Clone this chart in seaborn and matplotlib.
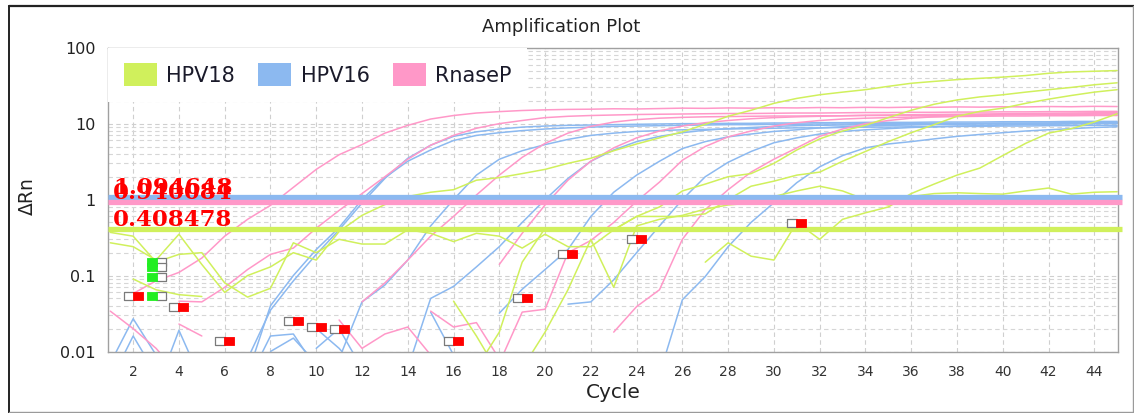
import matplotlib
matplotlib.use("Agg")
import matplotlib.pyplot as plt
import matplotlib.transforms as mtransforms
from matplotlib.lines import Line2D
from matplotlib.patches import Patch
from matplotlib.path import Path
from matplotlib.ticker import FixedLocator, FixedFormatter, NullLocator, NullFormatter
import pandas as pd
import seaborn as sns

# ---------------------------------------------------------------- data
# Each trace: first cycle drawn, then ΔRn for consecutive cycles.
hpv18_a_start = 1
hpv18_a = [0.27, 0.24, 0.16, 0.35, 0.14, 0.06, 0.1, 0.13, 0.2, 0.16, 0.38, 0.62, 0.86, 1.1, 1.25,
           1.35, 1.8, 1.95, 2.2, 2.5, 3.0, 3.5, 4.4, 5.4, 6.5, 7.8, 9.8, 12.5, 15, 18.5, 21.5, 24,
           26, 28, 31, 34, 36, 38, 39.5, 41, 43, 46, 48, 49, 50]
hpv18_b_start = 1
hpv18_b = [0.37, 0.33, 0.15, 0.19, 0.2, 0.08, 0.052, 0.068, 0.27, 0.2, 0.3, 0.26, 0.26, 0.4, 0.36,
           0.28, 0.36, 0.33, 0.23, 0.35, 0.24, 0.24, 0.4, 0.6, 0.8, 1.3, 1.6, 2.0, 2.2, 3.0, 4.5,
           6.3, 8.0, 9.5, 12, 15, 18, 20.5, 22.5, 24, 26, 28, 30, 32.5, 34.5]
hpv18_c_start = 17
hpv18_c = [0.006, 0.018, 0.15, 0.42, 0.4, 0.38, 0.4, 0.6, 0.6, 0.6, 0.65, 1.0, 1.5, 1.75, 2.1,
           2.3, 3.2, 4.3, 5.8, 7.6, 9.7, 12.5, 14.5, 16, 18.5, 21, 23.5, 26, 28]
hpv18_d_start = 19
hpv18_d = [0.006, 0.018, 0.065, 0.3, 0.07, 0.45, 0.55, 0.62, 0.75, 0.85, 0.9, 1.1, 1.3, 1.5, 1.3,
           1.0, 0.85, 1.1, 1.2, 1.23, 1.2, 1.18, 1.3, 1.42, 1.18, 1.25, 1.27]
hpv18_e_start = 27
hpv18_e = [0.15, 0.27, 0.18, 0.16, 0.5, 0.3, 0.55, 0.67, 0.8, 1.2, 1.6, 2.1, 2.6, 3.8, 5.5, 7.5,
           8.6, 10.5, 13.5]
hpv18_f_start = 2
hpv18_f = [0.09, 0.065, 0.056, 0.053]
hpv18_g_start = 16
hpv18_g = [0.046, 0.016, 0.005]

hpv16_a_start = 7
hpv16_a = [0.005, 0.04, 0.1, 0.22, 0.43, 1.0, 1.95, 3.2, 4.5, 6.0, 7.0, 7.6, 8.1, 8.5, 8.8, 9.0,
           9.2, 9.3, 9.4, 9.5, 9.6, 9.7, 9.7, 9.8, 9.8, 9.9, 9.9, 10.0, 10.0, 10.0, 10.1, 10.1,
           10.1, 10.2, 10.2, 10.2, 10.3, 10.3, 10.3]
hpv16_b_start = 7
hpv16_b = [0.008, 0.035, 0.085, 0.19, 0.4, 0.9, 1.9, 3.5, 5.2, 6.8, 7.8, 8.5, 9.0, 9.3, 9.5, 9.6,
           9.7, 9.8, 9.9, 10.0, 10.0, 10.1, 10.1, 10.2, 10.2, 10.3, 10.3, 10.4, 10.4, 10.4, 10.5,
           10.5, 10.5, 10.6, 10.6, 10.6, 10.7, 10.7, 10.7]
hpv16_c_start = 11
hpv16_c = [0.008, 0.045, 0.075, 0.16, 0.45, 1.0, 2.1, 3.4, 4.4, 5.3, 6.2, 7.0, 7.5, 7.9, 8.1, 8.3,
           8.4, 8.5, 8.6, 8.7, 8.8, 8.8, 8.9, 9.0, 9.0, 9.1, 9.1, 9.2, 9.2, 9.3, 9.3, 9.4, 9.4,
           9.5, 9.5]
hpv16_d_start = 14
hpv16_d = [0.006, 0.05, 0.072, 0.13, 0.24, 0.5, 1.0, 1.9, 3.2, 4.5, 5.8, 6.8, 7.6, 8.2, 8.6, 8.9,
           9.2, 9.4, 9.5, 9.6, 9.7, 9.8, 9.8, 9.9, 9.9, 10.0, 10.0, 10.0, 10.1, 10.1, 10.1, 10.2]
hpv16_e_start = 18
hpv16_e = [0.032, 0.066, 0.12, 0.22, 0.6, 1.25, 2.1, 3.2, 4.7, 5.8, 6.7, 7.3, 7.9, 8.3, 8.8, 9.1,
           9.3, 9.5, 9.6, 9.7, 9.8, 9.9, 9.9, 10.0, 10.0, 10.1, 10.1, 10.2]
hpv16_f_start = 21
hpv16_f = [0.042, 0.045, 0.088, 0.2, 0.45, 1.0, 2.0, 3.1, 4.3, 5.6, 6.5, 7.3, 7.9, 8.3, 8.6, 8.9,
           9.1, 9.3, 9.4, 9.6, 9.7, 9.8, 9.9, 10.0, 10.0]
hpv16_g_start = 25
hpv16_g = [0.005, 0.048, 0.097, 0.24, 0.5, 0.91, 1.67, 2.7, 3.8, 4.8, 5.4, 5.8, 6.3, 6.8, 7.2, 7.6,
           8.0, 8.3, 8.6, 8.9, 9.1]
hpv16_n1_start, hpv16_n1 = 1, [0.007, 0.027, 0.009]
hpv16_n2_start, hpv16_n2 = 1, [0.004, 0.016, 0.005]
hpv16_n3_start, hpv16_n3 = 3, [0.003, 0.019, 0.004]
hpv16_n4_start, hpv16_n4 = 7, [0.004, 0.016, 0.017, 0.006]
hpv16_n5_start, hpv16_n5 = 8, [0.01, 0.015, 0.007]
hpv16_n6_start, hpv16_n6 = 10, [0.011, 0.02, 0.006]
hpv16_n7_start, hpv16_n7 = 10, [0.02, 0.011, 0.005]
hpv16_n8_start, hpv16_n8 = 15, [0.033, 0.009]

rnasep_a_start = 2
rnasep_a = [0.058, 0.085, 0.11, 0.17, 0.33, 0.55, 0.84, 1.45, 2.5, 3.9, 5.3, 7.5, 9.5, 11.5, 12.8,
            13.8, 14.4, 14.9, 15.2, 15.4, 15.5, 15.7, 15.6, 15.8, 16.0, 15.9, 16.1, 16.0, 16.2,
            16.1, 16.3, 16.2, 16.4, 16.3, 16.5, 16.4, 16.6, 16.5, 16.7, 16.6, 16.8, 16.7, 16.9, 16.8]
rnasep_b_start = 4
rnasep_b = [0.046, 0.045, 0.07, 0.12, 0.19, 0.23, 0.42, 0.72, 1.2, 2.0, 3.4, 5.2, 7.0, 8.7, 10, 11,
            12, 12.5, 12.8, 13.0, 13.2, 13.3, 13.4, 13.5, 13.6, 13.6, 13.7, 13.8, 13.8, 13.9, 14.0,
            14.0, 14.1, 14.1, 14.2, 14.2, 14.3, 14.3, 14.4, 14.4, 14.5, 14.5]
rnasep_c_start = 12
rnasep_c = [0.045, 0.08, 0.16, 0.33, 0.6, 1.15, 2.1, 3.6, 5.5, 7.5, 9.2, 10.5, 11.3, 11.8, 12.1,
            12.3, 12.4, 12.5, 12.6, 12.6, 12.7, 12.7, 12.8, 12.8, 12.9, 12.9, 13.0, 13.0, 13.1,
            13.1, 13.2, 13.2, 13.3, 13.3]
rnasep_d_start = 18
rnasep_d = [0.14, 0.36, 0.85, 1.8, 3.2, 4.8, 6.5, 8.0, 9.3, 10.3, 11.0, 11.6, 12.0, 12.3, 12.5,
            12.7, 12.9, 13.0, 13.1, 13.2, 13.3, 13.4, 13.5, 13.6, 13.7, 13.8, 13.9, 14.0]
rnasep_e_start = 18
rnasep_e = [0.007, 0.033, 0.036, 0.2, 0.29, 0.5, 0.95, 1.7, 3.3, 5.0, 6.7, 8.0, 9.3, 10.3, 11.0,
            11.5, 11.8, 12.0, 12.2, 12.3, 12.4, 12.5, 12.6, 12.6, 12.7, 12.7, 12.8, 12.8]
rnasep_f_start = 23
rnasep_f = [0.018, 0.039, 0.065, 0.3, 0.74, 1.35, 2.3, 3.4, 4.8, 6.8, 8.5, 10.0, 11.0, 11.8, 12.3,
            12.6, 12.9, 13.1, 13.2, 13.3, 13.4, 13.5, 13.6]
rnasep_g_start, rnasep_g = 1, [0.034, 0.02, 0.011, 0.005]
rnasep_h_start, rnasep_h = 4, [0.023, 0.016]
rnasep_i_start, rnasep_i = 11, [0.026, 0.011, 0.017, 0.021, 0.009]
rnasep_j_start, rnasep_j = 15, [0.034, 0.021, 0.024, 0.008]

# detection thresholds per target
threshold_targets = ["HPV16", "RnaseP", "HPV18"]
threshold_values = [1.094648, 0.940084, 0.408478]

# baseline markers (cycle, ΔRn)
base_red_cycles = [2, 4, 6, 9, 10, 11, 16, 19, 21, 24, 31]
base_red_values = [0.053, 0.038, 0.0136, 0.025, 0.021, 0.02, 0.0136, 0.05, 0.195, 0.3, 0.49]
base_green_cycles = [3, 3, 3, 3]
base_green_values = [0.15, 0.13, 0.097, 0.053]

legend_targets = ["HPV18", "HPV16", "RnaseP"]
x_ticks = list(range(2, 45, 2))
y_ticks = [0.01, 0.1, 1, 10, 100]
y_tick_labels = ["0.01", "0.1", "1", "10", "100"]

palette = {"HPV18": "#d0f05c", "HPV16": "#8cb9f0", "RnaseP": "#ff98c8"}

# ---------------------------------------------------------------- long table
traces = [
    ("HPV16", hpv16_n1_start, hpv16_n1), ("HPV16", hpv16_n2_start, hpv16_n2),
    ("HPV16", hpv16_n3_start, hpv16_n3), ("HPV16", hpv16_n4_start, hpv16_n4),
    ("HPV16", hpv16_n5_start, hpv16_n5), ("HPV16", hpv16_n6_start, hpv16_n6),
    ("HPV16", hpv16_n7_start, hpv16_n7), ("HPV16", hpv16_n8_start, hpv16_n8),
    ("HPV16", hpv16_a_start, hpv16_a), ("HPV16", hpv16_b_start, hpv16_b),
    ("HPV16", hpv16_c_start, hpv16_c), ("HPV16", hpv16_d_start, hpv16_d),
    ("HPV16", hpv16_e_start, hpv16_e), ("HPV16", hpv16_f_start, hpv16_f),
    ("HPV16", hpv16_g_start, hpv16_g),
    ("RnaseP", rnasep_g_start, rnasep_g), ("RnaseP", rnasep_h_start, rnasep_h),
    ("RnaseP", rnasep_i_start, rnasep_i), ("RnaseP", rnasep_j_start, rnasep_j),
    ("RnaseP", rnasep_a_start, rnasep_a), ("RnaseP", rnasep_b_start, rnasep_b),
    ("RnaseP", rnasep_c_start, rnasep_c), ("RnaseP", rnasep_d_start, rnasep_d),
    ("RnaseP", rnasep_e_start, rnasep_e), ("RnaseP", rnasep_f_start, rnasep_f),
    ("HPV18", hpv18_f_start, hpv18_f), ("HPV18", hpv18_g_start, hpv18_g),
    ("HPV18", hpv18_a_start, hpv18_a), ("HPV18", hpv18_b_start, hpv18_b),
    ("HPV18", hpv18_c_start, hpv18_c), ("HPV18", hpv18_d_start, hpv18_d),
    ("HPV18", hpv18_e_start, hpv18_e),
]
rows = []
for i, (target, start, vals) in enumerate(traces):
    for k, v in enumerate(vals):
        rows.append((f"well{i:02d}", target, start + k, v))
df = pd.DataFrame(rows, columns=["well", "target", "cycle", "drn"])

# ---------------------------------------------------------------- figure
sns.set_style("white")
plt.rcParams["font.family"] = ["DejaVu Sans"]

W, H = 1134, 413
fig = plt.figure(figsize=(W / 100, H / 100), dpi=100)
ax = fig.add_axes([108 / W, 1 - 351.5 / H, 1010.3 / W, 303.8 / H])
ax.set_yscale("log")
ax.set_xlim(0.9, 45.05)
ax.set_ylim(0.01, 100)

sns.lineplot(data=df, x="cycle", y="drn", hue="target", units="well", estimator=None,
             palette=palette, linewidth=1.1, legend=False, sort=False, ax=ax, zorder=2)

# threshold lines with their values
for tgt, val in zip(threshold_targets, threshold_values):
    ax.axhline(val, xmin=0, xmax=1.004, color=palette[tgt], lw=3.8, zorder=3,
               solid_capstyle="butt", clip_on=False)
lab_tr = mtransforms.offset_copy(ax.get_yaxis_transform(), fig=fig, x=0, y=3, units="dots")
for tgt, val in zip(threshold_targets, threshold_values):
    ax.text(0.005, val, f"{val:.6f}", transform=lab_tr, color="#ff0000",
            fontsize=16.5, fontweight="bold", family="DejaVu Serif", va="baseline",
            ha="left", zorder=6)

# baseline start/end box pairs
box = Path([(-0.5, -0.4), (0.5, -0.4), (0.5, 0.4), (-0.5, 0.4), (-0.5, -0.4)],
           [Path.MOVETO, Path.LINETO, Path.LINETO, Path.LINETO, Path.CLOSEPOLY])
left = mtransforms.offset_copy(ax.transData, fig=fig, x=-4.5, y=0, units="dots")
right = mtransforms.offset_copy(ax.transData, fig=fig, x=4.5, y=0, units="dots")
ax.plot(base_red_cycles, base_red_values, ls="none", marker=box, ms=6.6, mfc="white",
        mec="#7a7a7a", mew=0.9, transform=left, zorder=5, clip_on=False)
ax.plot(base_red_cycles, base_red_values, ls="none", marker=box, ms=6.6, mfc="#ff0000",
        mec="#ff0000", mew=0.6, transform=right, zorder=5, clip_on=False)
ax.plot(base_green_cycles, base_green_values, ls="none", marker=box, ms=6.6, mfc="white",
        mec="#7a7a7a", mew=0.9, transform=right, zorder=5)
ax.plot(base_green_cycles, base_green_values, ls="none", marker=box, ms=6.6, mfc="#22ee22",
        mec="#22ee22", mew=0.6, transform=left, zorder=5)

# axes styling
ax.xaxis.set_major_locator(FixedLocator(x_ticks))
ax.xaxis.set_minor_locator(NullLocator())
ax.yaxis.set_major_locator(FixedLocator(y_ticks))
ax.yaxis.set_major_formatter(FixedFormatter(y_tick_labels))
ax.yaxis.set_minor_formatter(NullFormatter())
ax.set_axisbelow(True)
ax.grid(True, which="major", axis="both", color="#cfcfcf", lw=0.8, ls=(0, (4, 3)))
ax.grid(True, which="minor", axis="y", color="#d6d6d6", lw=0.8, ls=(0, (4, 3)))
ax.tick_params(axis="x", which="major", length=4, width=0.8, color="#8a8a8a",
               labelsize=10, labelcolor="#333333", pad=5.4)
ax.tick_params(axis="y", which="major", length=4, width=0.8, color="#8a8a8a",
               labelsize=11.5, labelcolor="#222222", pad=5)
ax.tick_params(axis="y", which="minor", length=0)
for sp in ax.spines.values():
    sp.set_color("#a0a0a0")
    sp.set_linewidth(1.0)
ax.set_xlabel("")
ax.set_ylabel("")

handles = [Patch(facecolor=palette[t], edgecolor="none", label=t) for t in legend_targets]
leg = ax.legend(handles=handles, loc="upper left", bbox_to_anchor=(0, 1), borderaxespad=0,
                ncol=3, fontsize=15, handlelength=1.6, handleheight=1.3, handletextpad=0.45,
                columnspacing=1.1, borderpad=0.75, frameon=True, fancybox=False,
                facecolor="white", edgecolor="none", framealpha=1.0)
for t in leg.get_texts():
    t.set_color("#1a1a2a")

fig.text(561 / W, 1 - 27 / H, "Amplification Plot", ha="center", va="center",
         fontsize=13, color="#222222")
fig.text(613 / W, 1 - 393 / H, "Cycle", ha="center", va="center", fontsize=14.5,
         color="#222222")
fig.text(27 / W, 1 - 196 / H, "ΔRn", ha="center", va="center", rotation=90, fontsize=13.5,
         color="#222222")

# outer frame
fig.add_artist(Line2D([9 / W, 1133.5 / W], [1 - 6 / H, 1 - 6 / H], transform=fig.transFigure,
                      color="#222222", lw=1.6))
fig.add_artist(Line2D([9 / W, 9 / W], [1 - 6 / H, 0.5 / H], transform=fig.transFigure,
                      color="#222222", lw=1.4))
fig.add_artist(Line2D([1133 / W, 1133 / W], [1 - 6 / H, 0.5 / H], transform=fig.transFigure,
                      color="#9a9a9a", lw=1.0))
fig.add_artist(Line2D([9 / W, 1133.5 / W], [0.8 / H, 0.8 / H], transform=fig.transFigure,
                      color="#9a9a9a", lw=1.0))

fig.savefig("out.png", dpi=100)
